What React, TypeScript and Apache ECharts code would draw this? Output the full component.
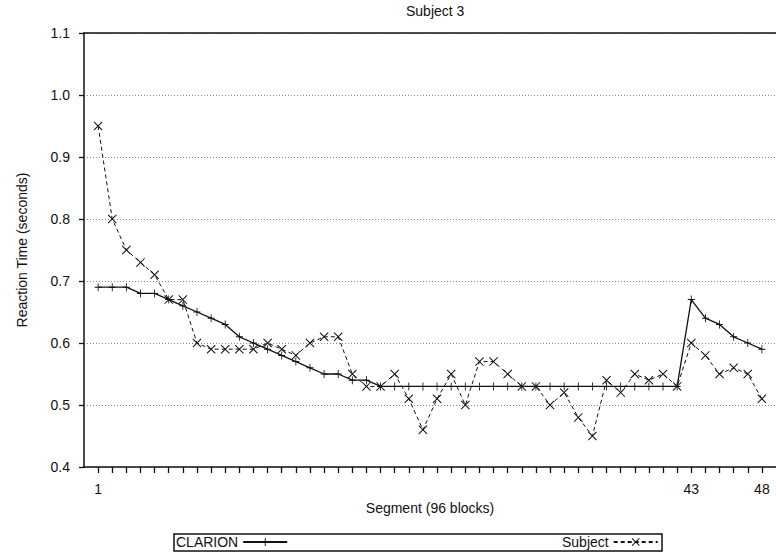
import React, { useEffect, useRef } from "react";
import * as echarts from "echarts";

const segments = [
  1, 2, 3, 4, 5, 6, 7, 8, 9, 10, 11, 12, 13, 14, 15, 16, 17, 18, 19, 20, 21, 22, 23, 24,
  25, 26, 27, 28, 29, 30, 31, 32, 33, 34, 35, 36, 37, 38, 39, 40, 41, 42, 43, 44, 45, 46, 47, 48,
];
const xLabelValues = [1, 43, 48];
const clarion = [
  0.69, 0.69, 0.69, 0.68, 0.68, 0.67, 0.66, 0.65, 0.64, 0.63, 0.61, 0.6, 0.59, 0.58, 0.57, 0.56,
  0.55, 0.55, 0.54, 0.54, 0.53, 0.53, 0.53, 0.53, 0.53, 0.53, 0.53, 0.53, 0.53, 0.53, 0.53, 0.53,
  0.53, 0.53, 0.53, 0.53, 0.53, 0.53, 0.53, 0.53, 0.53, 0.53, 0.67, 0.64, 0.63, 0.61, 0.6, 0.59,
];
const subject = [
  0.95, 0.8, 0.75, 0.73, 0.71, 0.67, 0.67, 0.6, 0.59, 0.59, 0.59, 0.59, 0.6, 0.59, 0.58, 0.6,
  0.61, 0.61, 0.55, 0.53, 0.53, 0.55, 0.51, 0.46, 0.51, 0.55, 0.5, 0.57, 0.57, 0.55, 0.53, 0.53,
  0.5, 0.52, 0.48, 0.45, 0.54, 0.52, 0.55, 0.54, 0.55, 0.53, 0.6, 0.58, 0.55, 0.56, 0.55, 0.51,
];

const FONT = "'Liberation Sans', Arial, sans-serif";
const PLUS = "path://M4.4,0H5.6V10H4.4Z M0,4.4H10V5.6H0Z";
const CROSS = "path://M0,0.8L0.8,0L10,9.2L9.2,10Z M9.2,0L10,0.8L0.8,10L0,9.2Z";

export default function App() {
  const ref = useRef<HTMLDivElement>(null);
  useEffect(() => {
    if (!ref.current) return;
    const chart = echarts.init(ref.current, null, { renderer: "svg" });
    const textStyle = { fontFamily: FONT, fontSize: 14, color: "#111" };
    chart.setOption({
      animation: false,
      backgroundColor: "#fff",
      textStyle,
      title: {
        text: "Subject 3",
        left: 401,
        top: -1,
        textStyle: { fontFamily: FONT, fontSize: 14, fontWeight: "normal", color: "#111" },
      },
      grid: { left: 84, right: 0, top: 33, bottom: 87, containLabel: false },
      legend: [
        {
          data: ["CLARION"],
          left: 176,
          top: 535,
          align: "right",
          itemWidth: 44,
          itemHeight: 10,
          padding: 0,
          textStyle,
        },
        {
          data: ["Subject"],
          left: 562,
          top: 535,
          align: "right",
          itemWidth: 44,
          itemHeight: 10,
          padding: 0,
          textStyle,
        },
      ],
      graphic: [
        {
          type: "rect",
          shape: { x: 174, y: 534, width: 488, height: 17 },
          style: { fill: "none", stroke: "#111", lineWidth: 1.5 },
          silent: true,
        },
      ],
      xAxis: [
        {
          type: "value",
          min: 0,
          max: 49,
          interval: 1,
          position: "bottom",
          name: "Segment (96 blocks)",
          nameLocation: "middle",
          nameGap: 34,
          nameTextStyle: textStyle,
          axisLine: { show: true, onZero: false, lineStyle: { color: "#111", width: 1.5 } },
          axisTick: {
            show: true,
            customValues: segments,
            length: 6,
            inside: false,
            lineStyle: { color: "#111", width: 1.3 },
          },
          axisLabel: { customValues: xLabelValues, margin: 15, ...textStyle },
          splitLine: { show: false },
        },
        {
          type: "value",
          min: 0,
          max: 49,
          position: "top",
          axisLine: { show: true, onZero: false, lineStyle: { color: "#111", width: 1.5 } },
          axisTick: { show: false },
          axisLabel: { show: false },
          splitLine: { show: false },
        },
      ],
      yAxis: {
        type: "value",
        min: 0.4,
        max: 1.1,
        interval: 0.1,
        name: "Reaction Time (seconds)",
        nameLocation: "middle",
        nameGap: 55,
        nameTextStyle: textStyle,
        axisLine: { show: true, onZero: false, lineStyle: { color: "#111", width: 1.5 } },
        axisTick: { show: true, length: 5, inside: false, lineStyle: { color: "#111", width: 1.3 } },
        axisLabel: {
          margin: 14,
          formatter: (v: number) => v.toFixed(1),
          ...textStyle,
        },
        splitLine: { show: true, lineStyle: { color: "#888", type: [1, 2], width: 1 } },
      },
      series: [
        {
          name: "CLARION",
          type: "line",
          data: segments.map((s, i) => [s, clarion[i]]),
          symbol: PLUS,
          symbolSize: [7, 8],
          itemStyle: { color: "#111" },
          lineStyle: { color: "#111", width: 1.3 },
          z: 3,
        },
        {
          name: "Subject",
          type: "line",
          data: segments.map((s, i) => [s, subject[i]]),
          symbol: CROSS,
          symbolSize: 9,
          itemStyle: { color: "#111" },
          lineStyle: { color: "#111", width: 1, type: [4, 3] },
          z: 2,
        },
      ],
    });
    return () => chart.dispose();
  }, []);
  return (
    <div
      ref={ref}
      style={{ position: "absolute", left: 0, top: 0, width: 776, height: 554, background: "#fff" }}
    />
  );
}
